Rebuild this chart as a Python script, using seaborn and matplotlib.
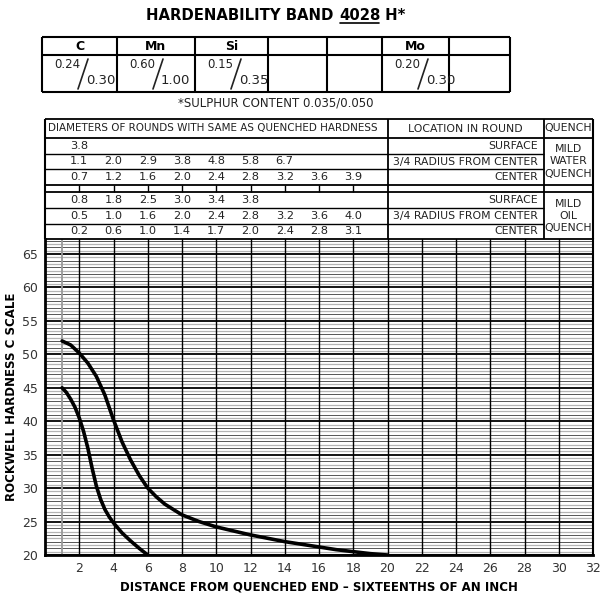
import numpy as np
import pandas as pd
import matplotlib
matplotlib.use("Agg")
import matplotlib.pyplot as plt
import seaborn as sns
from matplotlib.transforms import blended_transform_factory

# composition table
elements = ["C", "Mn", "Si", "", "", "Mo", ""]
elem_min = ["0.24", "0.60", "0.15", "", "", "0.20", ""]
elem_max = ["0.30", "1.00", "0.35", "", "", "0.30", ""]

# diameter table rows (values sit at distances 2, 4, 6, ...)
water_surface = [3.8]
water_34 = [1.1, 2.0, 2.9, 3.8, 4.8, 5.8, 6.7]
water_center = [0.7, 1.2, 1.6, 2.0, 2.4, 2.8, 3.2, 3.6, 3.9]
oil_surface = [0.8, 1.8, 2.5, 3.0, 3.4, 3.8]
oil_34 = [0.5, 1.0, 1.6, 2.0, 2.4, 2.8, 3.2, 3.6, 4.0]
oil_center = [0.2, 0.6, 1.0, 1.4, 1.7, 2.0, 2.4, 2.8, 3.1]
locations = ["SURFACE", "3/4 RADIUS FROM CENTER", "CENTER"]

# band curves
max_dist = [1, 1.5, 2, 2.5, 3, 3.5, 4, 4.5, 5, 5.5, 6, 6.5, 7, 7.5, 8, 9, 10,
            11, 12, 13, 14, 15, 16, 17, 18, 19, 20]
max_hrc = [52, 51.4, 50.2, 48.7, 46.7, 43.9, 40.2, 36.9, 34.2, 31.9, 30, 28.7, 27.6,
           26.8, 26, 25, 24.2, 23.6, 23, 22.5, 22, 21.6, 21.2, 20.8, 20.5, 20.2, 20]
min_dist = [1, 1.25, 1.5, 1.75, 2, 2.25, 2.5, 2.75, 3, 3.25, 3.5, 3.75, 4, 4.5, 5, 5.5, 6]
min_hrc = [45, 44.3, 43.3, 42.1, 40.5, 38.5, 36, 33, 30.3, 28.3, 26.8, 25.7, 24.8,
           23.3, 22.1, 21, 20]

sns.set_theme(style="white")
plt.rcParams["font.family"] = ["DejaVu Sans"]
txt = "#222222"

fig = plt.figure(figsize=(6.04, 6.0), dpi=100)
ax = fig.add_axes([45 / 604, 45 / 600, 548 / 604, 316 / 600])

# grid
for y in np.arange(20, 67.5, 0.5):
    if y % 5 == 0:
        ax.axhline(y, color="black", lw=1.3, zorder=1)
    elif y % 1 == 0:
        ax.axhline(y, color="#555555", lw=0.7, zorder=1)
    else:
        ax.axhline(y, color="#b4b4b4", lw=0.9, zorder=1)
ax.axvline(1, color="#999999", lw=1.3, zorder=1)
for x in range(2, 33, 2):
    ax.axvline(x, color="black", lw=1.0, zorder=1)

line_kw = dict(ax=ax, color="black", lw=2.6, sort=False, zorder=3)
sns.lineplot(x=max_dist, y=max_hrc, **line_kw)
sns.lineplot(x=min_dist, y=min_hrc, **line_kw)
for ln in ax.lines[-2:]:
    ln.set_solid_joinstyle("round")

ax.set_xlim(0, 32)
ax.set_ylim(20, 67.25)
ax.set_xticks(range(2, 33, 2))
ax.set_yticks(range(20, 66, 5))
ax.tick_params(length=0, labelsize=9, colors="#333333", pad=5)
ax.spines["top"].set_visible(False)
ax.spines["left"].set_linewidth(2)
ax.spines["bottom"].set_linewidth(2)
ax.spines["right"].set_linewidth(1.5)
for s in ["left", "bottom", "right"]:
    ax.spines[s].set_color("black")
ax.set_xlabel("DISTANCE FROM QUENCHED END \u2013 SIXTEENTHS OF AN INCH",
              fontsize=8.5, fontweight="bold", color="black", labelpad=4)
ax.set_ylabel("ROCKWELL HARDNESS C SCALE", fontsize=8.5, fontweight="bold",
              color="black", labelpad=3)

# overlay in pixel coords for the tables
over = fig.add_axes([0, 0, 1, 1])
over.set_xlim(0, 604)
over.set_ylim(600, 0)
over.axis("off")
over.patch.set_alpha(0)
bt = blended_transform_factory(ax.transData, over.transData)

# title with underlined heat number
renderer = fig.canvas.get_renderer()
parts = ["HARDENABILITY BAND ", "4028", " H*"]
tkw = dict(fontsize=10.7, fontweight="bold", color="black", va="center")
widths = []
for p in parts:
    t = over.text(0, 0, p, **tkw)
    widths.append(t.get_window_extent(renderer).width)
    t.remove()
x0 = 276 - sum(widths) / 2
for p, w in zip(parts, widths):
    over.text(x0, 15, p, ha="left", **tkw)
    if p == "4028":
        over.plot([x0 + 1, x0 + w - 1], [23, 23], color="black", lw=1.2)
    x0 += w

# composition table
cols = [42, 117, 195, 268, 327, 382, 449, 510]
over.hlines([37, 55, 92], 42, 510, color="black", lw=1.5)
over.vlines(cols, 37, 92, color="black", lw=1.5)
for i, el in enumerate(elements):
    cx = (cols[i] + cols[i + 1]) / 2
    over.text(cx, 46, el, ha="center", va="center", fontsize=9, fontweight="bold", color="black")
    if elem_min[i]:
        over.text(cols[i] + 12, 64, elem_min[i], ha="left", va="center", fontsize=8.5, color=txt)
        over.plot([cols[i] + 36, cols[i] + 46], [89, 59], color=txt, lw=1.2)
        over.text(cols[i] + 44, 80, elem_max[i], ha="left", va="center", fontsize=9.5, color=txt)
over.text(276, 103, "*SULPHUR CONTENT 0.035/0.050", ha="center", va="center", fontsize=8.5, color=txt)

# diameters table, x follows the chart's distance axis
loc_x, q_x = 20, 29.14
full = [119, 138, 185, 192]
part = [154, 169, 208, 224]
over.hlines(full, 0, 32, color="black", lw=1.3, transform=bt)
over.hlines(part, 0, q_x, color="black", lw=1.0, transform=bt)
over.hlines([239], 0, 32, color="black", lw=1.3, transform=bt)
over.vlines([0, 32], 119, 239, color="black", lw=1.5, transform=bt)
over.vlines([loc_x, q_x], 119, 239, color="black", lw=1.3, transform=bt)
over.vlines(range(2, 19, 2), 185, 192, color="black", lw=1.0, transform=bt)

fs = 7.8
over.text(0.15, 128.5, "DIAMETERS OF ROUNDS WITH SAME AS QUENCHED HARDNESS", ha="left",
          va="center", fontsize=7.5, color=txt, transform=bt)
over.text((loc_x + q_x) / 2, 128.5, "LOCATION IN ROUND", ha="center", va="center",
          fontsize=fs, color=txt, transform=bt)
over.text((q_x + 32) / 2, 128.5, "QUENCH", ha="center", va="center",
          fontsize=fs, color=txt, transform=bt)

rows = [water_surface, water_34, water_center, oil_surface, oil_34, oil_center]
row_y = [146, 161.5, 177, 200, 216, 231.5]
for vals, y, loc in zip(rows, row_y, locations * 2):
    for k, v in enumerate(vals):
        over.text(2 + 2 * k, y, f"{v:.1f}", ha="center", va="center", fontsize=fs + 0.4,
                  color=txt, transform=bt)
    over.text(q_x - 0.35, y, loc, ha="right", va="center", fontsize=fs, color=txt, transform=bt)
over.text((q_x + 32) / 2, 161.5, "MILD\nWATER\nQUENCH", ha="center", va="center",
          fontsize=fs, color=txt, linespacing=1.25, transform=bt)
over.text((q_x + 32) / 2, 216, "MILD\nOIL\nQUENCH", ha="center", va="center",
          fontsize=fs, color=txt, linespacing=1.25, transform=bt)

fig.savefig("out.png", dpi=100)
